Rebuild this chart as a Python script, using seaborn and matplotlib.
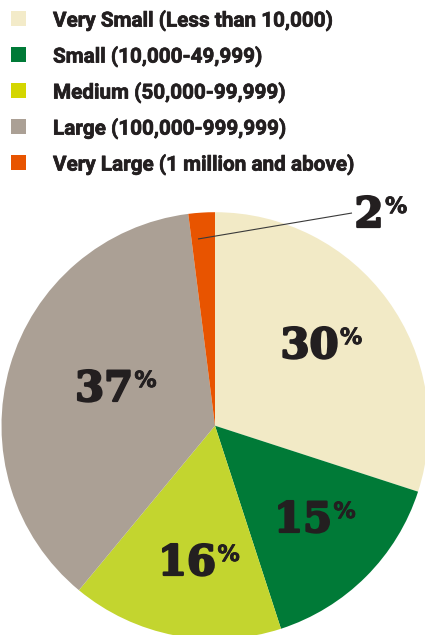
import matplotlib
matplotlib.use("Agg")
import matplotlib.pyplot as plt
import matplotlib.patheffects as pe
from matplotlib.patches import Rectangle
import seaborn as sns

# Population-size groups and their share of the total (percent)
categories = [
    "Very Small (Less than 10,000)",
    "Small (10,000-49,999)",
    "Medium (50,000-99,999)",
    "Large (100,000-999,999)",
    "Very Large (1 million and above)",
]
shares = [30, 15, 16, 37, 2]
slice_colors = ["#F2EAC6", "#007A37", "#C3D52F", "#ABA095", "#E85400"]
swatch_colors = ["#F3EBC9", "#007A37", "#D4D600", "#ABA095", "#E85400"]

W, H = 425, 635
INK = "#231F20"

sns.set_theme(style="white")
plt.rcParams["font.family"] = ["Roboto", "DejaVu Sans"]

fig = plt.figure(figsize=(W / 100, H / 100), dpi=100)
ax = fig.add_axes([0, 0, 1, 1])

# pie centre and radius in pixel units (y measured from the bottom)
cx, cy, r = 215, H - 425.7, 213.5
ax.pie(shares, colors=slice_colors, startangle=90, counterclock=False,
       center=(cx, cy), radius=r, wedgeprops=dict(linewidth=0))
ax.set_xlim(0, W)
ax.set_ylim(0, H)
ax.set_aspect("equal")
ax.axis("off")


def Y(y_top):
    """Convert a top-down pixel row to the axes' bottom-up coordinate."""
    return H - y_top


# legend: colour swatches with labels
legend_weight = [pe.withStroke(linewidth=0.5, foreground=INK)]
for i, (label, col) in enumerate(zip(categories, swatch_colors)):
    top = 11 + 36 * i
    ax.add_patch(Rectangle((11, Y(top + 15)), 15, 15, facecolor=col, lw=0))
    ax.text(53, Y(26.6 + 36 * i), label, fontsize=14.9, fontweight="bold",
            color=INK, ha="left", va="baseline", path_effects=legend_weight)

# percentage labels: digit centre x and baseline row for each slice
label_anchor = [(309.5, 358), (303, 532), (187, 575), (104, 401), (369, 227)]
heavy = [pe.withStroke(linewidth=1.6, foreground=INK)]
renderer = fig.canvas.get_renderer()
for v, (x, yb) in zip(shares, label_anchor):
    t = ax.text(x, Y(yb), f"{v}", fontsize=30, family=["DejaVu Serif"],
                fontweight="heavy", color=INK, ha="center", va="baseline",
                path_effects=heavy)
    bb = t.get_window_extent(renderer)
    ax.text(bb.x1 + 1.5, Y(yb - 14), "%", fontsize=16, family=["DejaVu Sans"],
            fontweight="bold", color=INK, ha="left", va="baseline",
            path_effects=[pe.withStroke(linewidth=0.6, foreground=INK)])

# leader line from the smallest slice to its label
ax.plot([198, 352], [Y(239), Y(213)], color="#3A3A3A", lw=0.8,
        solid_capstyle="butt")

fig.savefig("out.png", dpi=100)
